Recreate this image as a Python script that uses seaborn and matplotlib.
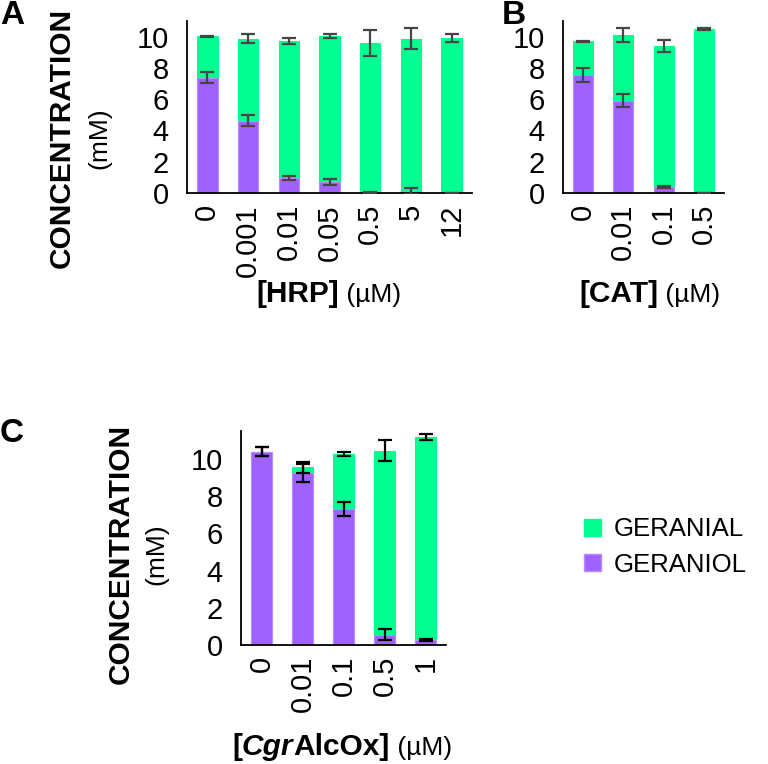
import numpy as np
import matplotlib
matplotlib.use("Agg")
import matplotlib.pyplot as plt
import seaborn as sns
from matplotlib.patches import Patch
from matplotlib.offsetbox import TextArea, HPacker, AnnotationBbox

sns.set_style("white")
plt.rcParams["font.family"] = ["Liberation Sans", "DejaVu Sans"]
plt.rcParams["text.color"] = "black"
plt.rcParams["xtick.color"] = "black"
plt.rcParams["ytick.color"] = "black"

# ── data ─────────────────────────────────────────────────────
hrp_labels = ["0", "0.001", "0.01", "0.05", "0.5", "5", "12"]
hrp_total = [10.02, 9.88, 9.73, 10.05, 9.6, 9.88, 9.9]
hrp_total_err = [0.04, 0.3, 0.2, 0.15, 0.85, 0.7, 0.25]
hrp_geraniol = [7.38, 4.62, 0.96, 0.68, 0.04, 0.15, 0.0]
hrp_geraniol_err = [0.37, 0.35, 0.15, 0.2, 0.03, 0.2, 0.0]

cat_labels = ["0", "0.01", "0.1", "0.5"]
cat_total = [9.7, 10.12, 9.42, 10.5]
cat_total_err = [0.05, 0.45, 0.38, 0.05]
cat_geraniol = [7.55, 5.9, 0.4, 0.0]
cat_geraniol_err = [0.42, 0.42, 0.05, 0.0]

alc_labels = ["0", "0.01", "0.1", "0.5", "1"]
alc_total = [10.39, 9.55, 10.28, 10.45, 11.18]
alc_total_err = [0.25, 0.3, 0.1, 0.57, 0.14]
alc_geraniol = [10.39, 9.22, 7.3, 0.55, 0.25]
alc_geraniol_err = [0.25, 0.48, 0.37, 0.3, 0.05]

GREEN = "#00FF90"
PURPLE = "#A062FF"
PURPLE_EDGE = "#B88CFF"

TICK_FS = 21
W, H = 768, 764
fig = plt.figure(figsize=(W / 100, H / 100), dpi=100)


def add_ax(left, right, y0, ytop):
    return fig.add_axes([left / W, 1 - y0 / H, (right - left) / W, (y0 - ytop) / H])


def panel(ax, labels, total, total_err, ger, ger_err, ylim, ecolor):
    sns.barplot(x=labels, y=total, color=GREEN, width=0.5, ax=ax,
                saturation=1, edgecolor=GREEN, linewidth=0.8, order=labels)
    sns.barplot(x=labels, y=ger, color=PURPLE, width=0.5, ax=ax,
                saturation=1, edgecolor=PURPLE_EDGE, linewidth=0.8, order=labels)
    pos = np.arange(len(labels))
    ax.errorbar(pos, total, yerr=total_err, fmt="none", ecolor=ecolor,
                elinewidth=1.6, capsize=4.8, capthick=1.6, zorder=5)
    ax.errorbar(pos, ger, yerr=ger_err, fmt="none", ecolor=ecolor,
                elinewidth=1.6, capsize=4.8, capthick=1.6, zorder=5)
    ax.set_xlim(-0.5, len(labels) - 0.5)
    ax.set_ylim(*ylim)
    ax.set_yticks([0, 2, 4, 6, 8, 10])
    ax.set_xticks(pos)
    ax.set_xticklabels(labels, rotation=90)
    ax.set_xticks(np.arange(len(labels) + 1) - 0.5, minor=True)
    ax.tick_params(axis="x", which="major", length=0, labelsize=TICK_FS, pad=8)
    ax.tick_params(axis="x", which="minor", length=6, width=1.3,
                   direction="out", color="black")
    ax.tick_params(axis="y", length=0, labelsize=TICK_FS, pad=13)
    ax.set_xlabel("")
    ax.set_ylabel("")
    sns.despine(ax=ax)
    for s in ["left", "bottom"]:
        ax.spines[s].set_linewidth(1.3)
        ax.spines[s].set_color("black")


def mixed_label(x, y, parts):
    boxes = [TextArea(t, textprops=dict(fontsize=fs, fontweight=fw,
                                        fontstyle=st, color="black"))
             for t, fs, fw, st in parts]
    pack = HPacker(children=boxes, align="baseline", pad=0, sep=0)
    ab = AnnotationBbox(pack, (x / W, 1 - y / H), xycoords="figure fraction",
                        frameon=False, box_alignment=(0.5, 0.5))
    fig.add_artist(ab)


# ── panel A ──────────────────────────────────────────────────
axA = add_ax(187, 472, 193, 21)
panel(axA, hrp_labels, hrp_total, hrp_total_err,
      hrp_geraniol, hrp_geraniol_err, (0, 11), "#454545")

# ── panel B ──────────────────────────────────────────────────
axB = add_ax(563, 724, 193, 21)
panel(axB, cat_labels, cat_total, cat_total_err,
      cat_geraniol, cat_geraniol_err, (0, 11), "#454545")

# ── panel C ──────────────────────────────────────────────────
axC = add_ax(241, 446, 645, 431)
panel(axC, alc_labels, alc_total, alc_total_err,
      alc_geraniol, alc_geraniol_err, (0, 11.5), "black")

# ── y labels ─────────────────────────────────────────────────
for x1, x2, yc in [(62, 99, 138), (121, 156, 554)]:
    fig.text(x1 / W, 1 - yc / H, "CONCENTRATION", rotation=90, fontsize=21.5,
             fontweight="bold", ha="center", va="center")
    fig.text(x2 / W, 1 - yc / H, "(mM)", rotation=90, fontsize=19,
             ha="center", va="center")

# ── x labels ─────────────────────────────────────────────────
mixed_label(329, 294, [("[HRP]", 21.5, "bold", "normal"),
                       (" (µM)", 19, "normal", "normal")])
mixed_label(650, 294, [("[CAT]", 21.5, "bold", "normal"),
                       (" (µM)", 19, "normal", "normal")])
mixed_label(342, 747, [("[", 21.5, "bold", "normal"),
                       ("Cgr", 21.5, "bold", "italic"),
                       ("AlcOx]", 21.5, "bold", "normal"),
                       (" (µM)", 19, "normal", "normal")])

# ── panel letters ────────────────────────────────────────────
for letter, x, y in [("A", 12, 15), ("B", 514, 15), ("C", 12, 433)]:
    fig.text(x / W, 1 - y / H, letter, fontsize=24, fontweight="bold",
             ha="center", va="center")

# ── legend ───────────────────────────────────────────────────
handles = [Patch(facecolor=GREEN, edgecolor=GREEN, label="GERANIAL"),
           Patch(facecolor=PURPLE, edgecolor=PURPLE_EDGE, label="GERANIOL")]
fig.legend(handles=handles, loc="center left",
           bbox_to_anchor=(584 / W, 1 - 547 / H), frameon=False,
           fontsize=18.5, handlelength=0.65, handleheight=0.65,
           handletextpad=0.5, labelspacing=0.45, borderpad=0, borderaxespad=0)

plt.savefig("out.png", dpi=100)
plt.close()
